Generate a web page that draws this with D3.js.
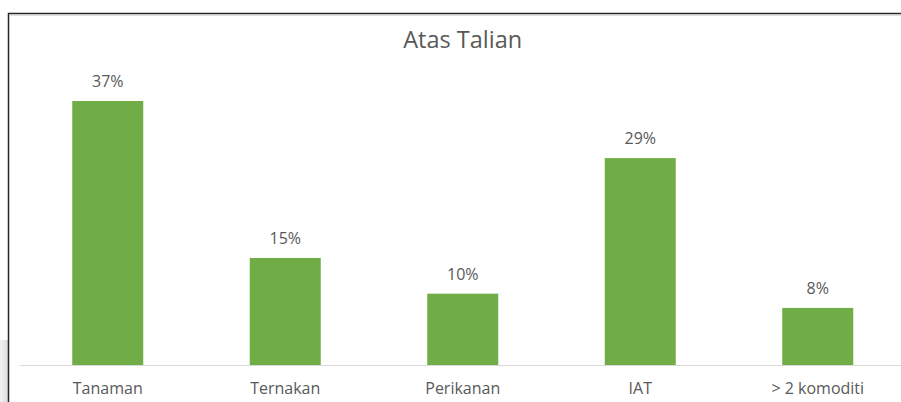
<!DOCTYPE html>
<html>
<head>
<meta charset="utf-8">
<script src="https://cdn.jsdelivr.net/npm/d3@7"></script>
<style>
  body { margin: 0; background: #fff; overflow: hidden; }
  svg { display: block; }
  text { font-family: "Open Sans", sans-serif; fill: #595959; }
</style>
</head>
<body>
<svg width="901" height="402"></svg>
<script>
const categories = ["Tanaman", "Ternakan", "Perikanan", "IAT", "> 2 komoditi"];
const values = [37, 15, 10, 29, 8];
const title = "Atas Talian";

const svg = d3.select('svg');

// shadow on left edge
const grad = svg.append('defs').append('linearGradient')
    .attr('id', 'shade').attr('x1', 0).attr('x2', 1).attr('y1', 0).attr('y2', 0);
grad.append('stop').attr('offset', '0%').attr('stop-color', '#f2f2f4');
grad.append('stop').attr('offset', '100%').attr('stop-color', '#dcdce0');
svg.append('rect')
    .attr('x', 0).attr('y', 340).attr('width', 8).attr('height', 62)
    .attr('fill', 'url(#shade)');

// frame
svg.append('path')
    .attr('d', 'M8.5,402 V13.5 H901')
    .attr('fill', 'none')
    .attr('stroke', '#262626')
    .attr('stroke-width', 1.5);
svg.append('line')
    .attr('x1', 9).attr('x2', 901).attr('y1', 15).attr('y2', 15)
    .attr('stroke', '#bfbfbf').attr('stroke-width', 1);

const x = d3.scaleBand()
    .domain(categories)
    .range([19, 906.5])
    .paddingInner(0.6)
    .paddingOuter(0.3);

const y = d3.scaleLinear()
    .domain([0, 37])
    .range([365, 101]);

svg.append('text')
    .attr('x', 462.7)
    .attr('y', 48)
    .attr('text-anchor', 'middle')
    .style('font-size', '23.5px')
    .text(title);

svg.selectAll('.bar')
    .data(values)
    .enter()
    .append('rect')
    .attr('class', 'bar')
    .attr('x', (d, i) => x(categories[i]))
    .attr('y', d => y(d))
    .attr('width', x.bandwidth())
    .attr('height', d => y(0) - y(d))
    .attr('fill', '#70ad47');

svg.selectAll('.val')
    .data(values)
    .enter()
    .append('text')
    .attr('class', 'val')
    .attr('x', (d, i) => x(categories[i]) + x.bandwidth() / 2)
    .attr('y', d => y(d) - 14)
    .attr('text-anchor', 'middle')
    .style('font-size', '16px')
    .text(d => d + '%');

const axis = svg.append('g')
    .attr('transform', 'translate(0,' + y(0) + ')')
    .call(d3.axisBottom(x).tickSize(0).tickPadding(18));
axis.select('.domain').attr('stroke', '#d9d9d9').attr('stroke-width', 1.2);
axis.selectAll('text')
    .style('font-size', '16px')
    .style('font-family', '"Open Sans", sans-serif')
    .attr('fill', '#595959');
</script>
</body>
</html>
